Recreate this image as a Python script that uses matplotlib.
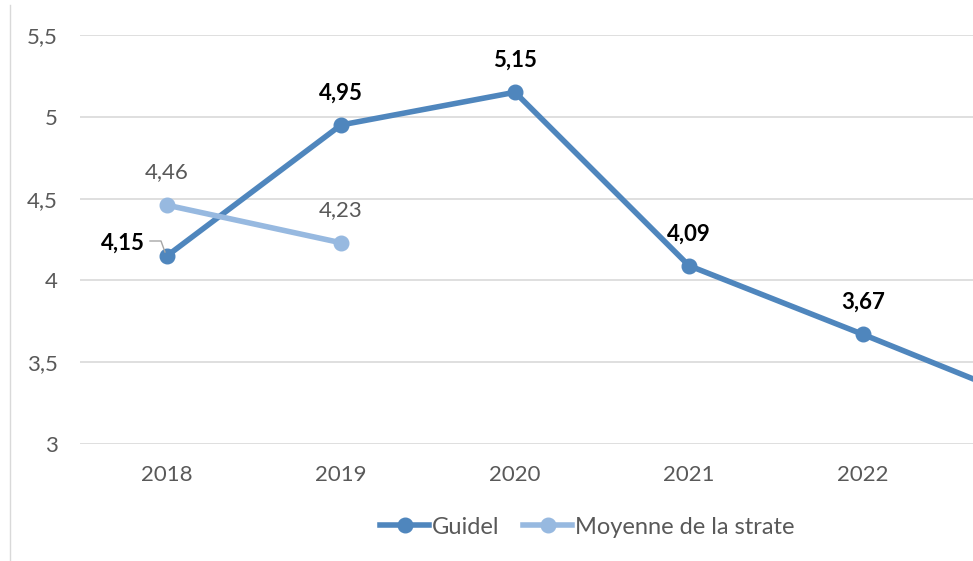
import matplotlib
matplotlib.use("Agg")
import matplotlib.pyplot as plt
from matplotlib.lines import Line2D

plt.rcParams['font.family'] = ['Lato', 'DejaVu Sans']

years = ['2018', '2019', '2020', '2021', '2022', '2023']
guidel = [4.15, 4.95, 5.15, 4.09, 3.67, 3.24]
moyenne = [4.46, 4.23]
guidel_labels = ['4,15', '4,95', '5,15', '4,09', '3,67']
moyenne_labels = ['4,46', '4,23']
yticks = [3, 3.5, 4, 4.5, 5, 5.5]
ytick_labels = ['3', '3,5', '4', '4,5', '5', '5,5']

c_guidel = '#4F86BD'
c_moy = '#97B9E0'
grid_c = '#D9D9D9'
txt_c = '#595959'
FS = 16
LW = 4.0
MS = 10.5

W, H = 973, 561
fig = plt.figure(figsize=(W/100, H/100), dpi=100)
ax = fig.add_axes([80/W, 1-444/H, 1-80/W, (444-35)/H])
ax.set_xlim(-0.5, (973-167)/174)
ax.set_ylim(3, 5.5)

x_g = list(range(len(guidel)))
x_m = list(range(len(moyenne)))
ax.plot(x_g, guidel, color=c_guidel, lw=LW, marker='o', ms=MS, zorder=3)
ax.plot(x_m, moyenne, color=c_moy, lw=LW, marker='o', ms=MS, zorder=3)

ax.set_yticks(yticks)
ax.set_yticklabels(ytick_labels)
ax.set_xticks(range(5))
ax.set_xticklabels(years[:5])
ax.grid(axis='y', color=grid_c, lw=1.2)
ax.set_axisbelow(True)
for s in ax.spines.values():
    s.set_visible(False)
ax.tick_params(axis='both', length=0, labelsize=FS, colors=txt_c)
ax.tick_params(axis='y', pad=16)
ax.tick_params(axis='x', pad=15)

# labels
for i, lab in enumerate(guidel_labels):
    if i == 0:
        ax.annotate(lab, (i, guidel[i]), xytext=(-32, 9), textcoords='offset points',
                    ha='center', va='center', fontsize=FS, fontweight='bold', color='black')
    else:
        ax.annotate(lab, (i, guidel[i]), xytext=(0, 23), textcoords='offset points',
                    ha='center', va='center', fontsize=FS, fontweight='bold', color='black')
for i, lab in enumerate(moyenne_labels):
    ax.annotate(lab, (i, moyenne[i]), xytext=(0, 23.5), textcoords='offset points',
                ha='center', va='center', fontsize=FS, color=txt_c)

# leader line for 4,15
fig.add_artist(Line2D([150/W, 161/W, 165/W], [1-241/H, 1-241/H, 1-252/H],
                      color='#A6A6A6', lw=1))

# left border of chart area
fig.add_artist(Line2D([10/W, 10/W], [0, 1-5/H], color=grid_c, lw=1))

handles = [Line2D([], [], color=c_guidel, lw=LW, marker='o', ms=MS),
           Line2D([], [], color=c_moy, lw=LW, marker='o', ms=MS)]
fig.legend(handles, ['Guidel', 'Moyenne de la strate'], loc='center',
           bbox_to_anchor=(587/W, 1-527/H), ncol=2, frameon=False, fontsize=17,
           labelcolor=txt_c, handlelength=2.1, handletextpad=0.1, columnspacing=1.0)

fig.savefig('out.png', dpi=100)
